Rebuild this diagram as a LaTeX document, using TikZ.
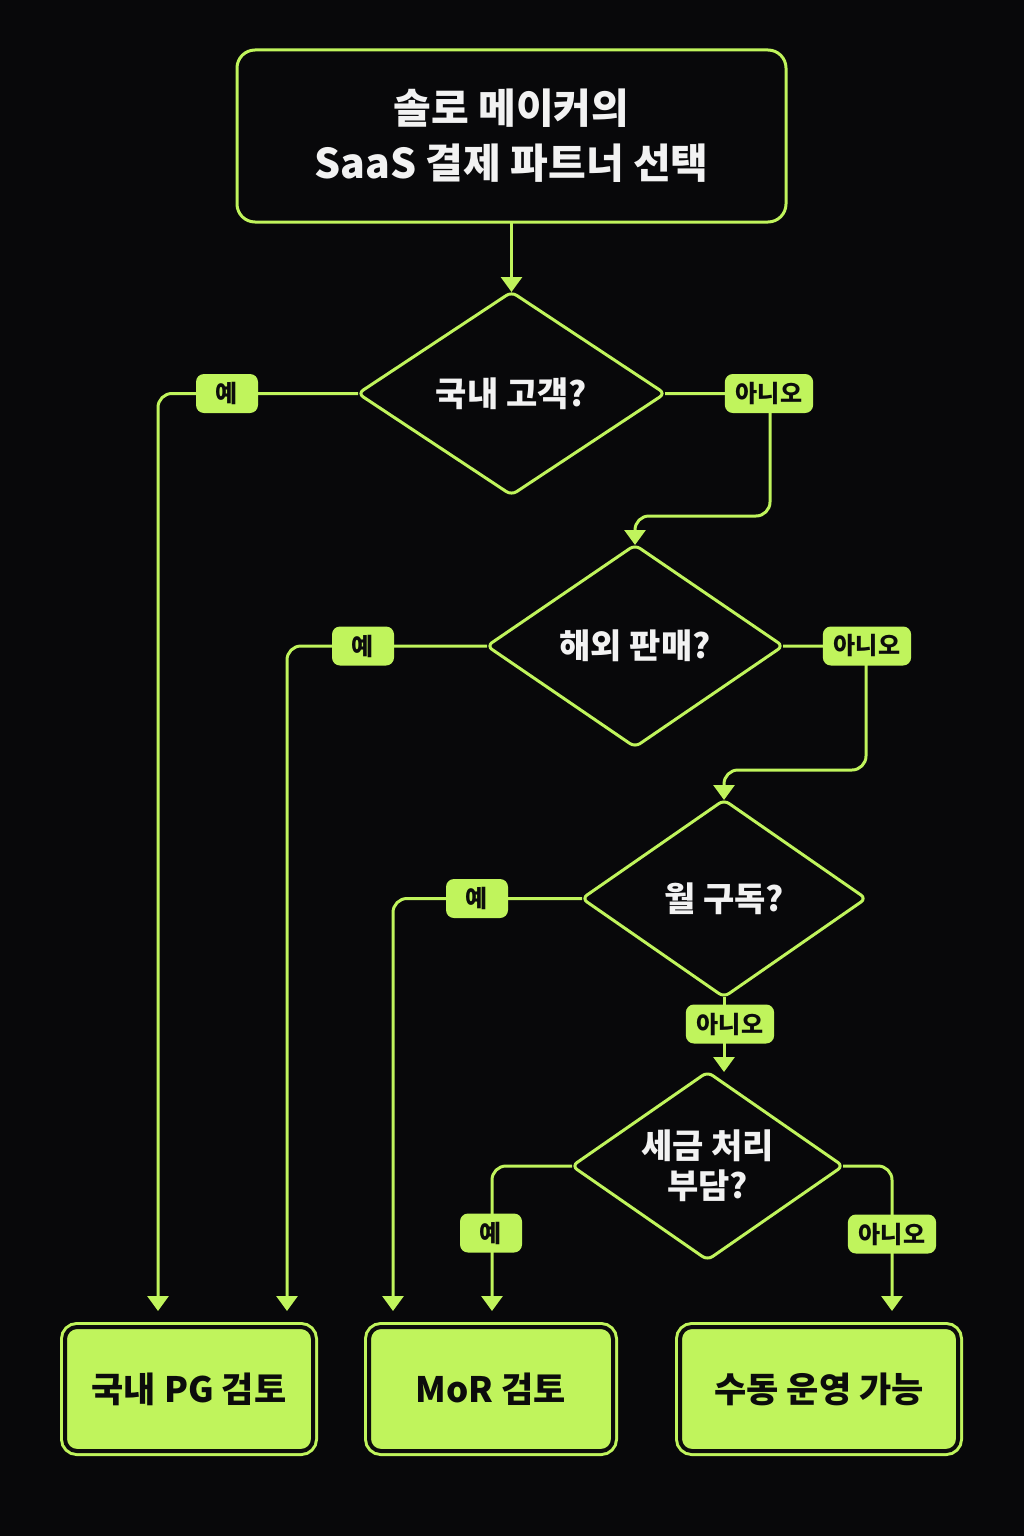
\documentclass[tikz,border=0pt]{standalone}
\usepackage{fontspec}
\setmainfont{Noto Sans CJK KR}
\usetikzlibrary{shapes.geometric,arrows.meta,calc}
\definecolor{lime}{RGB}{192,244,92}
\definecolor{bgc}{RGB}{8,8,10}
\definecolor{ink}{RGB}{12,12,12}
\definecolor{wtext}{RGB}{242,242,242}
\pgfdeclarelayer{bglayer}
\pgfdeclarelayer{lines}
\pgfsetlayers{bglayer,lines,main}
\begin{document}
\begin{tikzpicture}[x=1pt,y=-1pt,
  conn/.style={draw=lime, line width=3pt, rounded corners=14pt},
  arr/.style={conn, -{Triangle[length=15pt,width=21pt]}},
  startbox/.style={draw=lime, fill=bgc, line width=3pt, rounded corners=18pt, text=wtext,
    align=center, font=\bfseries\fontsize{41}{55}\selectfont, outer sep=0pt},
  decision/.style={diamond, aspect=1.5, draw=lime, fill=bgc, line width=3pt, rounded corners=6pt,
    inner sep=0pt, outer sep=0pt, text=wtext, align=center,
    font=\bfseries\fontsize{34}{40}\selectfont},
  tag/.style={fill=lime, rounded corners=8pt, text=ink, minimum height=39pt,
    minimum width=62pt, inner xsep=11pt, inner ysep=0pt,
    font=\bfseries\fontsize{24}{26}\selectfont},
  endbox/.style={fill=lime, draw=ink, line width=4pt, rounded corners=12pt,
    preaction={draw=lime, line width=10pt}, text=ink, outer sep=0pt,
    font=\bfseries\fontsize{35}{40}\selectfont}
]
\begin{pgfonlayer}{bglayer}
\fill[bgc] (0,0) rectangle (1024,1536);
\end{pgfonlayer}
\useasboundingbox (0,0) rectangle (1024,1536);

% main nodes
\node[startbox, minimum width=549pt, minimum height=172pt] (start) at (511.5,136)
  {솔로 메이커의\\SaaS 결제 파트너 선택};
\node[decision, minimum width=307pt, minimum height=203pt] (d1) at (511.5,393.5) {국내 고객?};
\node[decision, minimum width=296pt, minimum height=202pt] (d2) at (635,646) {해외 판매?};
\node[decision, minimum width=284pt, minimum height=197pt] (d3) at (724,898.5) {월 구독?};
\node[decision, minimum width=271pt, minimum height=188pt] (d4) at (707.5,1166) {세금 처리\\부담?};

\node[endbox, minimum width=248pt, minimum height=124pt] (b1) at (189,1389) {국내 PG 검토};
\node[endbox, minimum width=244pt, minimum height=124pt] (b2) at (491,1389) {MoR 검토};
\node[endbox, minimum width=278pt, minimum height=124pt] (b3) at (819,1389) {수동 운영 가능};

% connectors
\begin{pgfonlayer}{lines}
\draw[arr] (start.south) -- (d1.north);
\draw[arr] (d1.west) -| ([xshift=93pt,yshift=16pt]b1.north west);
\draw[arr] (d1.east) -| ([xshift=135pt,yshift=29pt]d2.north) -| (d2.north);
\draw[arr] (d2.west) -| ([xshift=222pt,yshift=16pt]b1.north west);
\draw[arr] (d2.east) -| ([xshift=142pt,yshift=30pt]d3.north) -| (d3.north);
\draw[arr] (d3.west) -| ([xshift=24pt,yshift=16pt]b2.north west);
\draw[arr] (d3.south) -- (d3.south |- d4.north);
\draw[arr] (d4.west) -| ([xshift=123pt,yshift=16pt]b2.north west);
\draw[arr] (d4.east) -| ([xshift=212pt,yshift=16pt]b3.north west);
\end{pgfonlayer}

% labels
\node[tag] (y1) at (227,393.5) {예};
\node[tag] (n1) at (769,393.5) {아니오};
\node[tag] (y2) at (363,646) {예};
\node[tag] (n2) at (867,646) {아니오};
\node[tag] (y3) at (477,898.5) {예};
\node[tag] (n3) at (730,1024) {아니오};
\node[tag] (y4) at (491,1233) {예};
\node[tag] (n4) at (892,1234) {아니오};
\end{tikzpicture}
\end{document}
